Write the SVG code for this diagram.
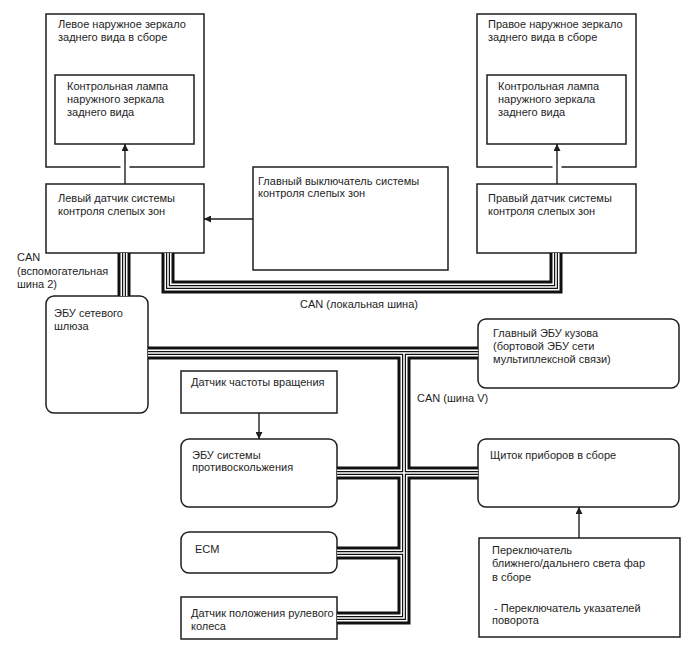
<svg xmlns="http://www.w3.org/2000/svg" xmlns:xlink="http://www.w3.org/1999/xlink" width="688" height="658" viewBox="0 0 688 658">
<style>
  text { font-family: "Liberation Sans", Arial, sans-serif; font-size: 11px; fill: #1e1e1e; }
  .box { fill: #fff; stroke: #1e1e1e; stroke-width: 1.5; }
  .arrow { fill: none; stroke: #1e1e1e; stroke-width: 1.4; }
  .gap { fill: none; stroke: #fff; stroke-width: 9; }
  .l1 { fill: none; stroke: #111; stroke-width: 13; stroke-linejoin: miter; }
  .l2 { fill: none; stroke: #fff; stroke-width: 7; stroke-linejoin: miter; }
  .l3 { fill: none; stroke: #111; stroke-width: 4; stroke-linejoin: miter; }
  .l4 { fill: none; stroke: #fff; stroke-width: 1.6; stroke-linejoin: miter; }
</style>
<defs>
  <marker id="ah" viewBox="0 0 10 10" refX="10" refY="5" markerWidth="8" markerHeight="7" markerUnits="userSpaceOnUse" orient="auto">
    <path d="M0,0 L10,5 L0,10 z" fill="#1e1e1e"/>
  </marker>
  <g id="busPaths">
    <path id="bus-aux" d="M124,253 V296"/>
    <path id="bus-local" d="M168,253 V287 H556 V253"/>
    <path id="bus-v" d="M148,353 H478 M404,353 V618 H337 M337,473 H478 M337,553 H404"/>
  </g>
</defs>
<rect width="688" height="658" fill="#fff"/>

<g id="left-mirror">
  <rect class="box" x="46" y="14" width="158" height="153"/>
  <text x="58" y="28">Левое наружное зеркало</text>
  <text x="58" y="41">заднего вида в сборе</text>
</g>
<g id="left-lamp">
  <rect class="box" x="55" y="75" width="139" height="69"/>
  <text x="67" y="90">Контрольная лампа</text>
  <text x="67" y="103">наружного зеркала</text>
  <text x="67" y="116">заднего вида</text>
</g>
<g id="right-mirror">
  <rect class="box" x="477" y="14" width="159" height="153"/>
  <text x="488" y="28">Правое наружное зеркало</text>
  <text x="488" y="41">заднего вида в сборе</text>
</g>
<g id="right-lamp">
  <rect class="box" x="487" y="75" width="139" height="69"/>
  <text x="498" y="90">Контрольная лампа</text>
  <text x="498" y="103">наружного зеркала</text>
  <text x="498" y="116">заднего вида</text>
</g>
<g id="left-sensor">
  <rect class="box" x="46" y="184" width="158" height="69"/>
  <text x="58" y="202">Левый датчик системы</text>
  <text x="58" y="215">контроля слепых зон</text>
</g>
<g id="right-sensor">
  <rect class="box" x="477" y="184" width="159" height="69"/>
  <text x="488" y="202">Правый датчик системы</text>
  <text x="488" y="215">контроля слепых зон</text>
</g>
<g id="main-switch">
  <rect class="box" x="253" y="167" width="195" height="103"/>
  <text x="258" y="185">Главный выключатель системы</text>
  <text x="258" y="197">контроля слепых зон</text>
</g>
<g id="gateway">
  <rect class="box" x="46" y="296" width="102" height="117" rx="8"/>
  <text x="54" y="317">ЭБУ сетевого</text>
  <text x="54" y="330">шлюза</text>
</g>
<g id="body-ecu">
  <rect class="box" x="478" y="319" width="201" height="69" rx="8"/>
  <text x="493" y="337">Главный ЭБУ кузова</text>
  <text x="493" y="350">(бортовой ЭБУ сети</text>
  <text x="493" y="363">мультиплексной связи)</text>
</g>
<g id="speed-sensor">
  <rect class="box" x="181" y="371" width="156" height="42"/>
  <text x="191" y="386">Датчик частоты вращения</text>
</g>
<g id="antiskid-ecu">
  <rect class="box" x="181" y="439" width="156" height="68" rx="8"/>
  <text x="192" y="459">ЭБУ системы</text>
  <text x="192" y="471">противоскольжения</text>
</g>
<g id="meter">
  <rect class="box" x="478" y="439" width="201" height="68" rx="8"/>
  <text x="490" y="459">Щиток приборов в сборе</text>
</g>
<g id="ecm">
  <rect class="box" x="181" y="532" width="156" height="41" rx="8"/>
  <text x="195" y="553">ECM</text>
</g>
<g id="steering-sensor">
  <rect class="box" x="181" y="597" width="156" height="42"/>
  <text x="191" y="617">Датчик положения рулевого</text>
  <text x="191" y="630">колеса</text>
</g>
<g id="headlight-switch">
  <rect class="box" x="479" y="538" width="201" height="99"/>
  <text x="492" y="554">Переключатель</text>
  <text x="492" y="567">ближнего/дальнего света фар</text>
  <text x="492" y="581">в сборе</text>
  <text x="494" y="612">- Переключатель указателей</text>
  <text x="492" y="624">поворота</text>
</g>

<g id="connectors">
  <g id="can-buses">
    <use xlink:href="#busPaths" href="#busPaths" class="l1"/>
    <use xlink:href="#busPaths" href="#busPaths" class="l2"/>
    <use xlink:href="#busPaths" href="#busPaths" class="l3"/>
    <use xlink:href="#busPaths" href="#busPaths" class="l4"/>
  </g>
  <line class="gap" x1="125" y1="163" x2="125" y2="171"/>
  <line class="gap" x1="557" y1="163" x2="557" y2="171"/>
  <line class="arrow" x1="125" y1="184" x2="125" y2="144" marker-end="url(#ah)"/>
  <line class="arrow" x1="557" y1="184" x2="557" y2="144" marker-end="url(#ah)"/>
  <line class="arrow" x1="253" y1="219" x2="204" y2="219" marker-end="url(#ah)"/>
  <line class="arrow" x1="259" y1="413" x2="259" y2="439" marker-end="url(#ah)"/>
  <line class="arrow" x1="579" y1="538" x2="579" y2="507" marker-end="url(#ah)"/>
  <text x="17" y="261">CAN</text>
  <text x="17" y="275">(вспомогательная</text>
  <text x="17" y="288">шина 2)</text>
  <text x="300" y="308">CAN (локальная шина)</text>
  <text x="417" y="402">CAN (шина V)</text>
</g>
</svg>
